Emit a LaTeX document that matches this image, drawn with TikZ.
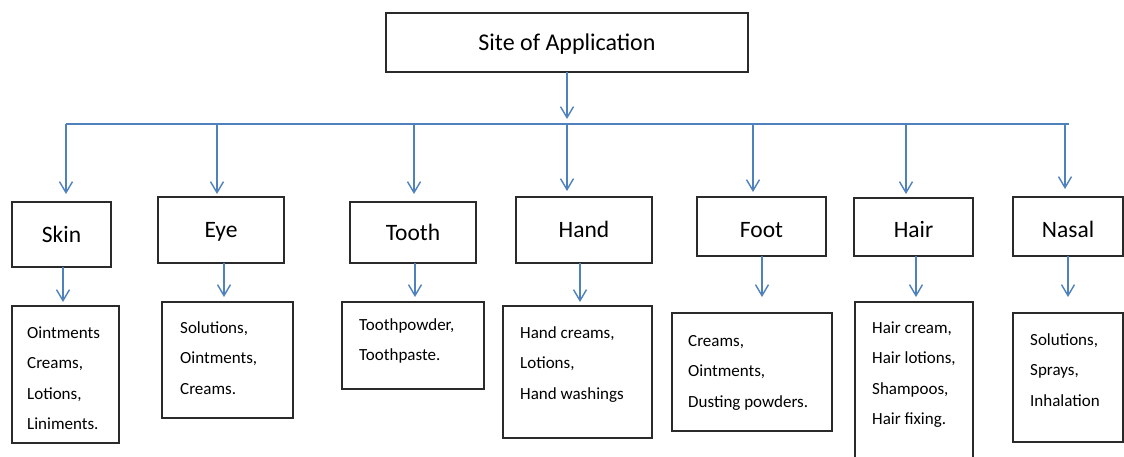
\documentclass[tikz,border=0pt]{standalone}
\usepackage{fontspec}
\setmainfont{Carlito}
\usetikzlibrary{arrows.meta}
\definecolor{linkblue}{HTML}{4F81BD}
\definecolor{boxline}{HTML}{2A2A2A}
\tikzset{
  box/.style={draw=boxline, line width=1.3pt, inner sep=0pt, outer sep=0pt, text=black},
  titlebox/.style={box, font=\fontsize{24}{28}\selectfont, text height=15pt, text depth=0pt},
  catbox/.style={box, font=\fontsize{23.5}{28}\selectfont, text height=15pt, text depth=0pt},
  listbox/.style={box},
  listtext/.style={anchor=north west, inner sep=0pt, align=left, font=\fontsize{17}{30.5}\selectfont, text=black},
  link/.style={draw=linkblue, line width=1.4pt},
  arr/.style={link, -{Straight Barb[length=11pt,width=13pt]}},
}
\begin{document}
\begin{tikzpicture}[x=1pt,y=-1pt]
\clip (0,0) rectangle (1124,456);
\fill[white] (0,0) rectangle (1124,456);

% title
\node[titlebox, minimum width=362pt, minimum height=59pt] (title) at (567,42.5) {Site of Application};

% categories
\node[catbox, minimum width=99pt,  minimum height=65pt] (skin)  at (61.5,234.5) {Skin};
\node[catbox, minimum width=126pt, minimum height=66pt] (eye)   at (221,230)    {Eye};
\node[catbox, minimum width=126pt, minimum height=61pt] (tooth) at (413,232.5)  {Tooth};
\node[catbox, minimum width=136pt, minimum height=66pt] (hand)  at (584,230)    {Hand};
\node[catbox, minimum width=129pt, minimum height=59pt, text height=21pt] (foot)  at (761.5,226.5) {Foot};
\node[catbox, minimum width=119pt, minimum height=58pt, text height=21pt] (hair)  at (913.5,227)   {Hair};
\node[catbox, minimum width=110pt, minimum height=59pt, text height=21pt] (nasal) at (1068,226.5)  {Nasal};

% list boxes
\node[listbox, minimum width=107pt, minimum height=137pt] (skinL)  at (65.5,374.5) {};
\node[listbox, minimum width=131pt, minimum height=116pt] (eyeL)   at (227.5,360)  {};
\node[listbox, minimum width=142pt, minimum height=87pt]  (toothL) at (413,345.5)  {};
\node[listbox, minimum width=149pt, minimum height=132pt] (handL)  at (577.5,372)  {};
\node[listbox, minimum width=160pt, minimum height=118pt] (footL)  at (752,372)    {};
\node[listbox, minimum width=118pt, minimum height=168pt] (hairL)  at (914,386)    {};
\node[listbox, minimum width=110pt, minimum height=129pt] (nasalL) at (1068,377.5) {};

% list texts
\node[listtext] (skinT)  at ([xshift=15pt,yshift=-19pt]skinL.north west)  {\rule{0pt}{13pt}Ointments\\Creams,\\Lotions,\\Liniments.};
\node[listtext] (eyeT)   at ([xshift=18pt,yshift=-18pt]eyeL.north west)   {\rule{0pt}{13pt}Solutions,\\Ointments,\\Creams.};
\node[listtext] (toothT) at ([xshift=17pt,yshift=-15pt]toothL.north west) {\rule{0pt}{13pt}Toothpowder,\\Toothpaste.};
\node[listtext] (handT)  at ([xshift=17pt,yshift=-19pt]handL.north west)  {\rule{0pt}{13pt}Hand creams,\\Lotions,\\Hand washings};
\node[listtext] (footT)  at ([xshift=16pt,yshift=-20pt]footL.north west)  {\rule{0pt}{13pt}Creams,\\Ointments,\\Dusting powders.};
\node[listtext] (hairT)  at ([xshift=17pt,yshift=-18pt]hairL.north west)  {\rule{0pt}{13pt}Hair cream,\\Hair lotions,\\Shampoos,\\Hair fixing.};
\node[listtext] (nasalT) at ([xshift=17pt,yshift=-19pt]nasalL.north west) {\rule{0pt}{13pt}Solutions,\\Sprays,\\Inhalation};

% distribution bar
\coordinate (b1) at (66,124);
\coordinate (b2) at (217,124);
\coordinate (b3) at (414,124);
\coordinate (b4) at (567,124);
\coordinate (b5) at (753,124);
\coordinate (b6) at (906,124);
\coordinate (b7) at (1065,124);
\coordinate (bend) at (1069,124);
\draw[link] (b1) -- (bend);

\draw[arr, shorten >=5pt] (title.south) -- (b4);

\draw[arr, shorten >=8pt] (b1) -- (b1 |- skin.north);
\draw[arr, shorten >=3pt] (b2) -- (b2 |- eye.north);
\draw[arr, shorten >=8pt] (b3) -- (b3 |- tooth.north);
\draw[arr, shorten >=6pt] (b4) -- (b4 |- hand.north);
\draw[arr, shorten >=5pt] (b5) -- (b5 |- foot.north);
\draw[arr, shorten >=4pt] (b6) -- (b6 |- hair.north);
\draw[arr, shorten >=8pt] (b7) -- (b7 |- nasal.north);

% category to list
\draw[arr, shorten >=4pt]  ([xshift=1.5pt]skin.south)  -- ([xshift=-2.5pt]skinL.north);
\draw[arr, shorten >=5pt]  ([xshift=3pt]eye.south)     -- ([xshift=-3.5pt]eyeL.north);
\draw[arr, shorten >=5pt]  ([xshift=2pt]tooth.south)   -- ([xshift=2pt]toothL.north);
\draw[arr, shorten >=4pt]  ([xshift=-4pt]hand.south)   -- ([xshift=2.5pt]handL.north);
\draw[arr, shorten >=16pt] ([xshift=0.5pt]foot.south)  -- ([xshift=10pt]footL.north);
\draw[arr, shorten >=5pt]  ([xshift=2.5pt]hair.south)  -- ([xshift=2pt]hairL.north);
\draw[arr, shorten >=16pt] (nasal.south) -- (nasalL.north);
\end{tikzpicture}
\end{document}
